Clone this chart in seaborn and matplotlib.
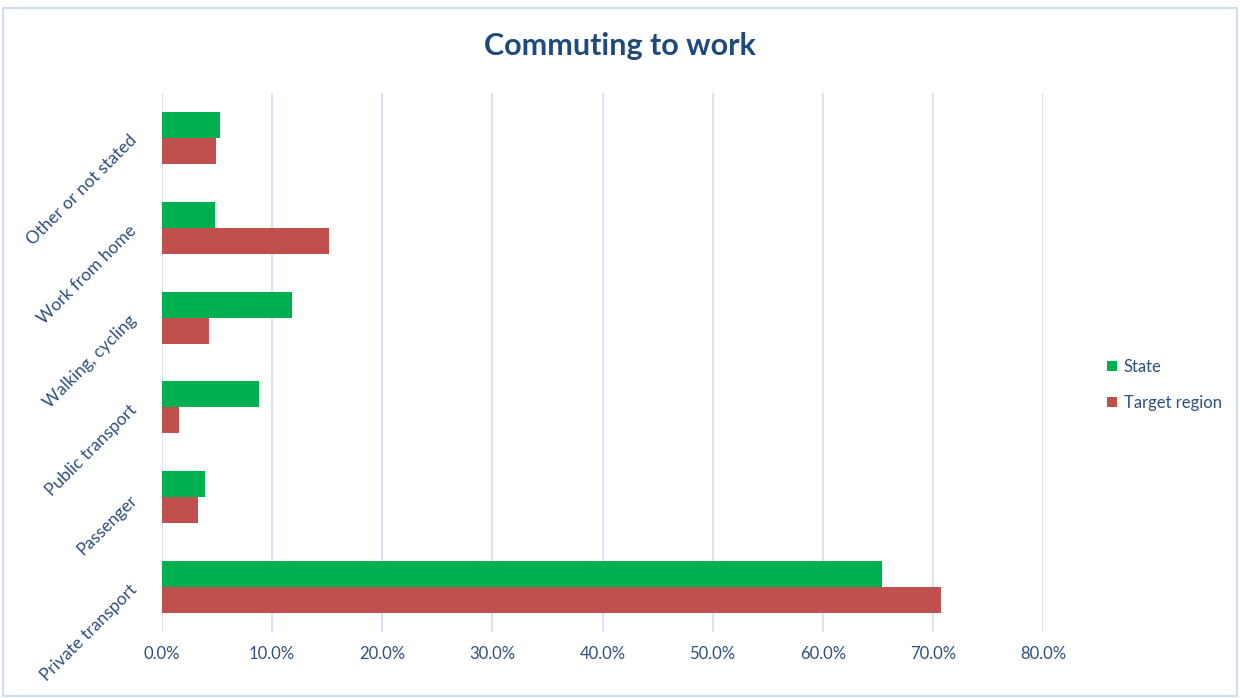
import matplotlib
matplotlib.use("Agg")
import matplotlib.pyplot as plt
import seaborn as sns
import pandas as pd
from matplotlib.patches import Rectangle, Patch
from matplotlib.ticker import FuncFormatter, MultipleLocator

categories = ["Other or not stated", "Work from home", "Walking, cycling",
              "Public transport", "Passenger", "Private transport"]
state = [5.3, 4.85, 11.8, 8.85, 3.9, 65.4]
target_region = [4.9, 15.2, 4.25, 1.5, 3.3, 70.75]
series = ["State", "Target region"]
colors = ["#00B050", "#C0504D"]

df = pd.DataFrame({
    "category": categories * 2,
    "value": state + target_region,
    "series": [series[0]] * len(categories) + [series[1]] * len(categories),
})

sns.set_theme(style="white")
plt.rcParams["font.family"] = ["Lato", "DejaVu Sans"]

text_col = "#2F4F7F"
fig = plt.figure(figsize=(12.4, 6.98), dpi=100)
ax = fig.add_axes([162/1240, 1-632/698, (1043-162)/1240, (632-93)/698])

sns.barplot(data=df, y="category", x="value", hue="series", order=categories,
            hue_order=series, palette=colors, width=0.58, orient="h",
            saturation=1, ax=ax, legend=False, edgecolor="none")

ax.set_xlim(0, 80)
ax.xaxis.set_major_locator(MultipleLocator(10))
ax.xaxis.set_major_formatter(FuncFormatter(lambda v, p: f"{v:.1f}%"))
ax.grid(axis="x", color="#D3DFF1", linewidth=1.3)
ax.set_axisbelow(True)
for s in ax.spines.values():
    s.set_visible(False)
ax.set_xlabel("")
ax.set_ylabel("")
ax.tick_params(axis="x", colors=text_col, labelsize=12, length=0, pad=10)
ax.tick_params(axis="y", colors=text_col, labelsize=12.5, length=0, pad=20)
for lbl in ax.get_xticklabels():
    lbl.set_color(text_col)
for lbl in ax.get_yticklabels():
    lbl.set_rotation(45)
    lbl.set_rotation_mode("anchor")
    lbl.set_ha("right")
    lbl.set_va("center")
    lbl.set_color(text_col)

fig.text(0.5, 1-46/698, "Commuting to work", ha="center", va="center",
         fontsize=22, fontweight="bold", color="#1F497D")

handles = [Patch(facecolor=c, edgecolor="none", label=s) for s, c in zip(series, colors)]
leg = fig.legend(handles=handles, loc="center left",
                 bbox_to_anchor=(1092/1240, 1-385/698), frameon=False,
                 handlelength=0.6, handleheight=0.6, handletextpad=0.4,
                 labelspacing=1.2, fontsize=12)
for t in leg.get_texts():
    t.set_color(text_col)

fig.patches.append(Rectangle((3/1240, 2/698), 1-6/1240, 1-10/698,
                             transform=fig.transFigure, fill=False,
                             edgecolor="#D0DDEE", linewidth=1.5))

fig.savefig("out.png", dpi=100, facecolor="white")
